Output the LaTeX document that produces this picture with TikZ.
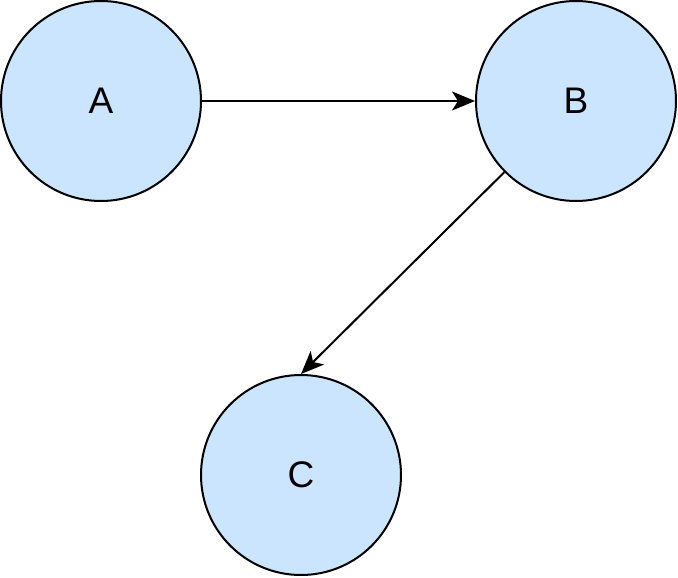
\documentclass[tikz,border=0pt]{standalone}
\usepackage{fontspec}
\setmainfont{Liberation Sans}
\usetikzlibrary{arrows.meta}
\definecolor{nodefill}{HTML}{CCE5FF}
\tikzset{
  circnode/.style={circle, draw=black, line width=2pt, fill=nodefill, minimum size=200pt, inner sep=0pt, font=\fontsize{37}{40}\selectfont},
  headtip/.tip={Stealth[length=23pt, width=19pt, inset=6pt]},
  conn/.style={draw=black, line width=2pt, -headtip}
}
\begin{document}
\begin{tikzpicture}[x=1pt, y=-1pt]
\useasboundingbox (0,0) rectangle (678,578);
\node[circnode] (A) at (101,101) {A};
\node[circnode] (B) at (576,101) {B};
\node[circnode] (C) at (301,475) {C};
\draw[conn] (A) -- (B);
\draw[conn] (B) -- (C.north);
\end{tikzpicture}
\end{document}
